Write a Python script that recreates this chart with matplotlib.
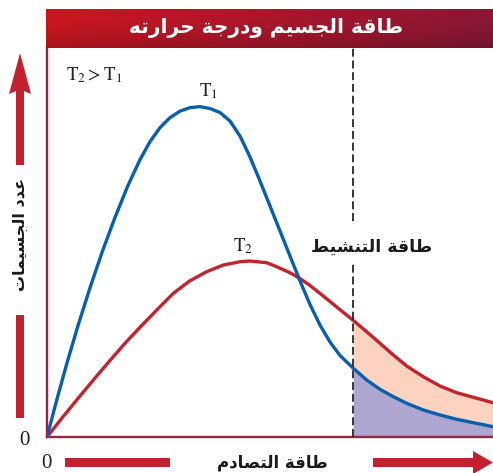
import numpy as np
import matplotlib
matplotlib.use('Agg')
import matplotlib.pyplot as plt
from matplotlib.patches import Polygon, Rectangle

plt.rcParams['mathtext.fontset'] = 'stix'

# collision energy (arbitrary units) and particle counts for the two temperatures
energy_t1 = np.array([0.0, 0.224, 0.448, 0.695, 0.964, 1.233, 1.525, 1.816, 2.085, 2.309,
                      2.534, 2.758, 2.982, 3.206, 3.430, 3.655, 3.879, 4.103, 4.327, 4.552,
                      4.776, 5.000, 5.224, 5.448, 5.673, 5.897, 6.121, 6.345, 6.570, 6.868,
                      7.168, 7.466, 7.765, 8.065, 8.437, 8.812, 9.186, 9.558, 10.0])
count_t1 = np.array([0.0, 0.972, 1.893, 2.849, 3.816, 4.721, 5.619, 6.435, 7.095, 7.555,
                     7.913, 8.169, 8.335, 8.425, 8.450, 8.402, 8.299, 8.082, 7.698, 7.161,
                     6.547, 5.908, 5.269, 4.629, 3.990, 3.389, 2.864, 2.430, 2.084, 1.757,
                     1.458, 1.220, 1.031, 0.862, 0.691, 0.563, 0.453, 0.366, 0.263])

energy_t2 = np.array([0.0, 0.336, 0.702, 1.076, 1.451, 1.760, 2.085, 2.460, 2.832, 3.206,
                      3.581, 3.953, 4.327, 4.552, 4.926, 5.150, 5.448, 5.673, 5.897, 6.195,
                      6.496, 6.868, 7.168, 7.466, 7.765, 8.065, 8.437, 8.812, 9.186, 9.558, 10.0])
count_t2 = np.array([0.0, 0.486, 0.997, 1.509, 2.008, 2.412, 2.806, 3.248, 3.675, 3.997,
                     4.228, 4.399, 4.483, 4.501, 4.458, 4.355, 4.202, 4.054, 3.875, 3.606,
                     3.325, 2.980, 2.693, 2.396, 2.097, 1.816, 1.542, 1.304, 1.133, 1.015, 0.877])

activation_energy = 6.868

title = 'طاقة الجسيم ودرجة حرارته'
ylabel = 'عدد الجسيمات'
xlabel = 'طاقة التصادم'
ea_label = 'طاقة التنشيط'

# isolated, final, initial, medial glyphs; two-form letters only join to the right
FORMS = {
    'ا': ('\uFE8D', '\uFE8E'),
    'ة': ('\uFE93', '\uFE94'),
    'د': ('\uFEA9', '\uFEAA'),
    'ر': ('\uFEAD', '\uFEAE'),
    'و': ('\uFEED', '\uFEEE'),
    'ت': ('\uFE95', '\uFE96', '\uFE97', '\uFE98'),
    'ج': ('\uFE9D', '\uFE9E', '\uFE9F', '\uFEA0'),
    'ح': ('\uFEA1', '\uFEA2', '\uFEA3', '\uFEA4'),
    'س': ('\uFEB1', '\uFEB2', '\uFEB3', '\uFEB4'),
    'ش': ('\uFEB5', '\uFEB6', '\uFEB7', '\uFEB8'),
    'ص': ('\uFEB9', '\uFEBA', '\uFEBB', '\uFEBC'),
    'ط': ('\uFEC1', '\uFEC2', '\uFEC3', '\uFEC4'),
    'ع': ('\uFEC9', '\uFECA', '\uFECB', '\uFECC'),
    'ق': ('\uFED5', '\uFED6', '\uFED7', '\uFED8'),
    'ل': ('\uFEDD', '\uFEDE', '\uFEDF', '\uFEE0'),
    'م': ('\uFEE1', '\uFEE2', '\uFEE3', '\uFEE4'),
    'ن': ('\uFEE5', '\uFEE6', '\uFEE7', '\uFEE8'),
    'ه': ('\uFEE9', '\uFEEA', '\uFEEB', '\uFEEC'),
    'ي': ('\uFEF1', '\uFEF2', '\uFEF3', '\uFEF4'),
}


def shape(text):
    # pick contextual forms, then reverse so the LTR renderer shows it right-to-left
    out = []
    for i, ch in enumerate(text):
        f = FORMS.get(ch)
        if f is None:
            out.append(ch)
            continue
        prev = text[i - 1] if i > 0 else ''
        nxt = text[i + 1] if i + 1 < len(text) else ''
        joins_prev = prev in FORMS and len(FORMS[prev]) == 4
        joins_next = len(f) == 4 and nxt in FORMS
        if joins_prev and joins_next:
            out.append(f[3])
        elif joins_prev:
            out.append(f[1])
        elif joins_next:
            out.append(f[2])
        else:
            out.append(f[0])
    return ''.join(reversed(out))


BLUE = '#0a5fab'
RED = '#c1232f'
MAROON = '#9b2145'
ARROW = '#c0232f'
arabic = dict(family='DejaVu Sans', fontweight='bold')

W, H = 493, 473
fig = plt.figure(figsize=(W / 100, H / 100), dpi=100)

ax = fig.add_axes([47 / W, 1 - 437 / H, 446 / W, 389 / H])
ax.set_xlim(0, 10)
ax.set_ylim(0, 9.95)
ax.set_xticks([])
ax.set_yticks([])
for s in ['top', 'right']:
    ax.spines[s].set_visible(False)
for s in ['left', 'bottom']:
    ax.spines[s].set_color(MAROON)
    ax.spines[s].set_linewidth(1.7)

# shaded tails beyond the activation energy
m1 = energy_t1 >= activation_energy
m2 = energy_t2 >= activation_energy
ax.fill_between(energy_t1[m1], 0, count_t1[m1], color='#aca6d0', lw=0, zorder=1)
ax.fill_between(energy_t1[m1], count_t1[m1], count_t2[m2], color='#fbd3c0', lw=0, zorder=1)

ax.plot(energy_t2, count_t2, color=RED, lw=2.4, zorder=3, solid_joinstyle='round')
ax.plot(energy_t1, count_t1, color=BLUE, lw=2.4, zorder=4, solid_joinstyle='round')

dash = dict(color='#262626', lw=1.3, linestyle=(0, (4.4, 2.1)), zorder=5)
ax.axvline(activation_energy, ymin=(437 - 221) / 389, ymax=1, **dash)
ax.axvline(activation_energy, ymin=0, ymax=(437 - 262) / 389, **dash)

# decorations in pixel space: header bar, arrows, labels
deco = fig.add_axes([0, 0, 1, 1])
deco.axis('off')

cols = np.linspace(0, 1, 256)
rows = np.linspace(0, 1, 32)
left_c = np.array([0.80, 0.09, 0.13])
right_c = np.array([0.54, 0.09, 0.21])
grad = left_c[None, None, :] * (1 - cols)[None, :, None] + right_c[None, None, :] * cols[None, :, None]
grad = grad * (1 - 0.18 * rows ** 2)[:, None, None]
deco.imshow(grad, extent=(46, 493, 48, 9), aspect='auto', interpolation='bilinear')
deco.set_xlim(0, W)
deco.set_ylim(H, 0)

deco.text(266, 28, shape(title), color='white', fontsize=14.5, ha='center', va='center', **arabic)

# vertical arrow for particle count
deco.add_patch(Polygon([(20, 53), (31, 94), (24, 91), (24, 165), (16, 165), (16, 91), (9, 94)],
                       closed=True, color=ARROW, lw=0))
deco.add_patch(Rectangle((16, 315), 8, 103, color=ARROW, lw=0))
deco.text(20, 234, shape(ylabel), rotation=90, fontsize=11.5, ha='center', va='center', color='#1a1a1a', **arabic)

# horizontal arrow for collision energy
deco.add_patch(Rectangle((65, 458), 105, 9, color=ARROW, lw=0))
deco.add_patch(Polygon([(373, 458), (473, 458), (473, 451), (493, 462.5), (473, 474), (473, 467), (373, 467)],
                       closed=True, color=ARROW, lw=0))
deco.text(272, 462, shape(xlabel), fontsize=12, ha='center', va='center', color='#1a1a1a', **arabic)

deco.text(372, 247, shape(ea_label), fontsize=12.5, ha='center', va='center', color='#1a1a1a', **arabic)

serif = dict(family='Liberation Serif', color='#231f20')
deco.text(24, 440, '0', fontsize=15, ha='center', va='center', **serif)
deco.text(46, 463, '0', fontsize=15, ha='center', va='center', **serif)
deco.text(66, 80, r'$\mathrm{T_2 > T_1}$', fontsize=13.5, ha='left', va='baseline', color='#231f20')
deco.text(199, 96, r'$\mathrm{T_1}$', fontsize=13.5, ha='left', va='baseline', color='#231f20')
deco.text(233, 251, r'$\mathrm{T_2}$', fontsize=13.5, ha='left', va='baseline', color='#231f20')

fig.savefig('out.png', dpi=100)
